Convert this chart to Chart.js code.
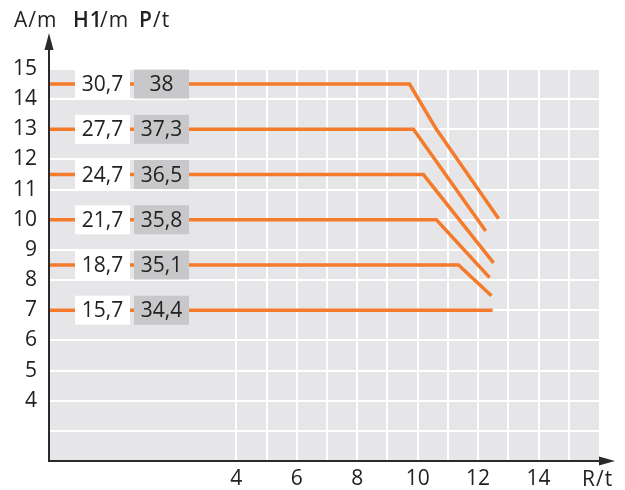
<!DOCTYPE html>
<html>
<head>
<meta charset="utf-8">
<script src="https://cdn.jsdelivr.net/npm/chart.js@4"></script>
<style>
  body { margin: 0; background: #fff; }
  #wrap { width: 625px; height: 490px; }
</style>
</head>
<body>
<div id="wrap"><canvas id="loadChart" width="625" height="490"></canvas></div>
<script>
// tick labels
var rTicks = [4, 6, 8, 10, 12, 14];
var aTicks = [4, 5, 6, 7, 8, 9, 10, 11, 12, 13, 14, 15];

// box labels for each curve
var h1Values = ["30,7", "27,7", "24,7", "21,7", "18,7", "15,7"];
var pValues = ["38", "37,3", "36,5", "35,8", "35,1", "34,4"];
var levels = [14.5, 13, 11.5, 10, 8.5, 7];

// curves: R/t (x) and A/m (y)
var curve1R = [-2.2, 9.73, 10.62, 12.68];
var curve1A = [14.5, 14.5, 13.0, 10.03];
var curve2R = [-2.2, 9.86, 12.25];
var curve2A = [13, 13, 9.63];
var curve3R = [-2.2, 10.19, 12.51];
var curve3A = [11.5, 11.5, 8.57];
var curve4R = [-2.2, 10.62, 12.38];
var curve4A = [10, 10, 8.08];
var curve5R = [-2.2, 11.35, 12.44];
var curve5A = [8.5, 8.5, 7.48];
var curve6R = [-2.2, 12.48];
var curve6A = [7, 7];

var curvesR = [curve1R, curve2R, curve3R, curve4R, curve5R, curve6R];
var curvesA = [curve1A, curve2A, curve3A, curve4A, curve5A, curve6A];

var orange = "#f47a2c";
var textColor = "#222222";
var fontName = "Open Sans";

function toPoints(xs, ys) {
  return xs.map(function (x, i) { return { x: x, y: ys[i] }; });
}

var datasets = curvesR.map(function (xs, i) {
  return {
    data: toPoints(xs, curvesA[i]),
    showLine: true,
    borderColor: orange,
    borderWidth: 3.5,
    pointRadius: 0,
    fill: false,
    tension: 0,
    clip: false
  };
});

var decorPlugin = {
  id: "decor",
  beforeDraw: function (chart) {
    var a = chart.chartArea, c = chart.ctx;
    c.save();
    c.fillStyle = "#e6e6e8";
    c.fillRect(a.left, a.top, a.right - a.left, a.bottom - a.top);
    c.restore();
  },
  afterDatasetsDraw: function (chart) {
    var a = chart.chartArea, c = chart.ctx, ys = chart.scales.y;
    c.save();
    c.font = "21px " + fontName;
    c.textAlign = "center";
    c.textBaseline = "middle";
    levels.forEach(function (lv, i) {
      var py = ys.getPixelForValue(lv);
      var x1 = a.left + 26, x2 = a.left + 85, w = 55, h = 29;
      c.fillStyle = "#ffffff";
      c.fillRect(x1, py - h / 2, w, h);
      c.fillStyle = "#c8c8ca";
      c.fillRect(x2, py - h / 2, w, h);
      c.fillStyle = textColor;
      c.fillText(h1Values[i], x1 + w / 2, py + 1);
      c.fillText(pValues[i], x2 + w / 2, py + 1);
    });
    c.restore();
  },
  afterDraw: function (chart) {
    var a = chart.chartArea, c = chart.ctx;
    c.save();
    c.strokeStyle = "#2a2a2a";
    c.fillStyle = "#2a2a2a";
    c.lineWidth = 2;
    // y axis with arrow
    c.beginPath();
    c.moveTo(a.left, a.bottom + 1);
    c.lineTo(a.left, 48);
    c.stroke();
    c.beginPath();
    c.moveTo(a.left, 33);
    c.lineTo(a.left - 4.5, 50);
    c.lineTo(a.left + 4.5, 50);
    c.closePath();
    c.fill();
    // x axis with arrow
    c.beginPath();
    c.moveTo(a.left - 1, a.bottom);
    c.lineTo(601, a.bottom);
    c.stroke();
    c.beginPath();
    c.moveTo(615, a.bottom);
    c.lineTo(599, a.bottom - 4.5);
    c.lineTo(599, a.bottom + 4.5);
    c.closePath();
    c.fill();
    // axis titles
    c.fillStyle = textColor;
    c.textBaseline = "alphabetic";
    c.textAlign = "left";
    c.letterSpacing = "1px";
    c.font = "21px " + fontName;
    c.fillText("A/m", 14, 27);
    c.font = "600 21px " + fontName;
    c.fillText("H1", 73, 27);
    c.font = "21px " + fontName;
    c.fillText("/m", 100, 27);
    c.font = "600 21px " + fontName;
    c.fillText("P", 139, 27);
    c.font = "21px " + fontName;
    c.fillText("/t", 153, 27);
    c.fillText("R/t", 582, 486);
    c.restore();
  }
};

var ctx = document.getElementById("loadChart").getContext("2d");
var loadChart = new Chart(ctx, {
  type: "scatter",
  data: { datasets: datasets },
  options: {
    responsive: false,
    animation: false,
    layout: { padding: { top: 69, right: 26, left: 0, bottom: 0 } },
    plugins: { legend: { display: false }, tooltip: { enabled: false } },
    scales: {
      x: {
        type: "linear",
        min: -2.2,
        max: 16,
        afterBuildTicks: function (axis) {
          axis.ticks = [4, 5, 6, 7, 8, 9, 10, 11, 12, 13, 14, 15].map(function (v) { return { value: v }; });
        },
        afterFit: function (axis) { axis.height = 29; },
        grid: { color: "#ffffff", lineWidth: 2, drawTicks: false },
        border: { display: false },
        ticks: {
          padding: 5,
          color: textColor,
          font: { family: fontName, size: 21 },
          maxRotation: 0,
          autoSkip: false,
          callback: function (v) { return rTicks.indexOf(v) >= 0 ? String(v) : ""; }
        }
      },
      y: {
        min: 2,
        max: 15,
        afterBuildTicks: function (axis) {
          axis.ticks = [3, 4, 5, 6, 7, 8, 9, 10, 11, 12, 13, 14, 15].map(function (v) { return { value: v }; });
        },
        afterFit: function (axis) { axis.width = 49; },
        grid: { color: "#ffffff", lineWidth: 2, drawTicks: false },
        border: { display: false },
        ticks: {
          padding: 12,
          color: textColor,
          font: { family: fontName, size: 21 },
          autoSkip: false,
          callback: function (v) { return aTicks.indexOf(v) >= 0 ? String(v) : ""; }
        }
      }
    }
  },
  plugins: [decorPlugin]
});
</script>
</body>
</html>
